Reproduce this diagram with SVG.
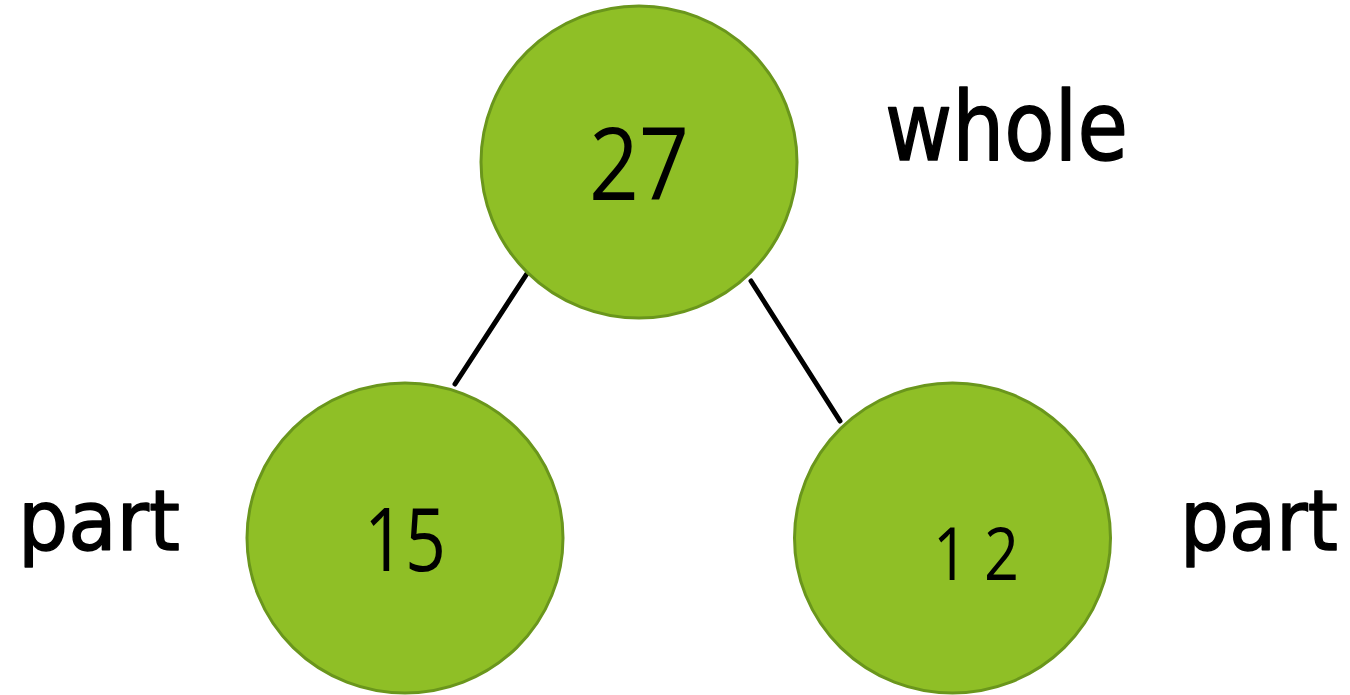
<svg xmlns="http://www.w3.org/2000/svg" width="1350" height="695" viewBox="0 0 1350 695">
  <style>
    .node { fill: #8fbf26; stroke: #6a961c; stroke-width: 3; }
    .num { font-family: "Open Sans", "Liberation Sans", sans-serif; fill: #000; }
    .lbl { font-family: "DejaVu Sans", "Liberation Sans", sans-serif; fill: #000; stroke: #000; stroke-width: 1.5; stroke-linejoin: round; }
    .edge { stroke: #000; stroke-width: 5; stroke-linecap: round; fill: none; }
  </style>
  <rect width="1350" height="695" fill="#fff"/>
  <g id="connectors">
    <line class="edge" x1="528" y1="272" x2="455" y2="384"/>
    <line class="edge" x1="751" y1="281" x2="840" y2="421"/>
  </g>
  <g id="whole-node">
    <ellipse class="node" cx="639" cy="162" rx="158" ry="156"/>
    <text class="num" x="589" y="200" font-size="100" textLength="100" lengthAdjust="spacingAndGlyphs">27</text>
  </g>
  <g id="part-left-node">
    <ellipse class="node" cx="405" cy="538" rx="158" ry="155"/>
    <text class="num" x="364" y="571" font-size="87" textLength="82" lengthAdjust="spacingAndGlyphs">15</text>
  </g>
  <g id="part-right-node">
    <ellipse class="node" cx="952.5" cy="538" rx="158" ry="155"/>
    <text class="num" x="933" y="580" font-size="74" textLength="86" lengthAdjust="spacingAndGlyphs">1 2</text>
  </g>
  <g id="labels">
    <text class="lbl" x="885" y="160" font-size="96" textLength="243" lengthAdjust="spacingAndGlyphs">whole</text>
    <text class="lbl" x="18" y="550" font-size="84" textLength="162" lengthAdjust="spacingAndGlyphs">part</text>
    <text class="lbl" x="1180" y="550" font-size="84" textLength="158" lengthAdjust="spacingAndGlyphs">part</text>
  </g>
</svg>
